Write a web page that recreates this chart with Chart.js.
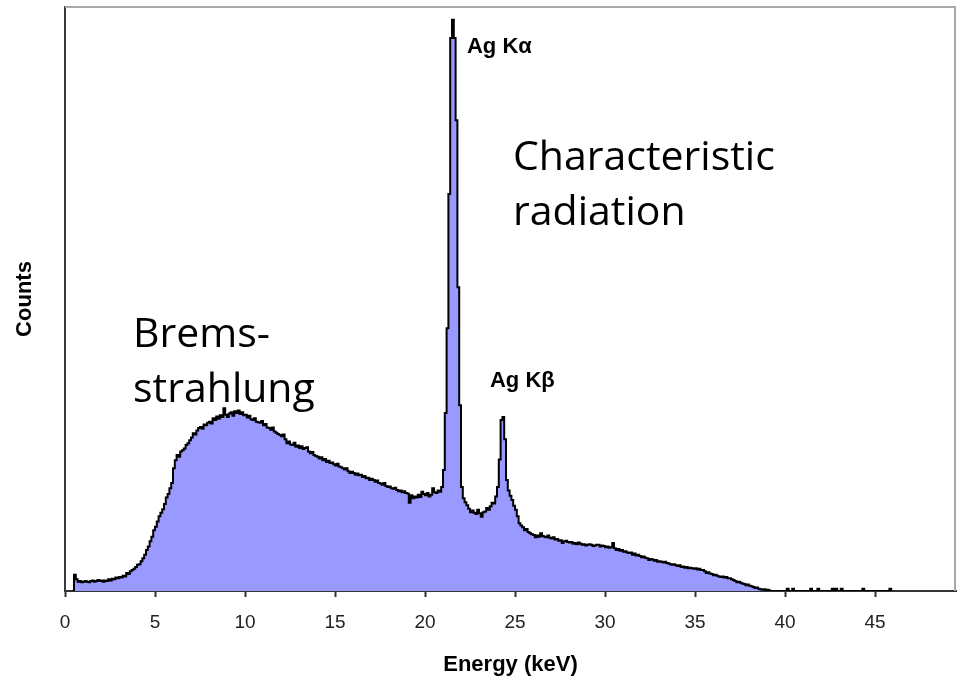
<!DOCTYPE html>
<html>
<head>
<meta charset="utf-8">
<script src="https://cdn.jsdelivr.net/npm/chart.js@4/dist/chart.umd.min.js"></script>
<style>
  html, body { margin: 0; padding: 0; background: #ffffff; }
  canvas { display: block; }
</style>
</head>
<body>
<canvas id="spectrum" width="957" height="680"></canvas>
<script>
// Energy calibration of the analyser: channel i sits at FIRST_CHANNEL_KEV + i * CHANNEL_WIDTH_KEV
const FIRST_CHANNEL_KEV = 0.4;
const CHANNEL_WIDTH_KEV = 0.1;

// Counts per channel (relative units, full scale 100), one row per keV
const counts = [
  /* 0.4 */ 0, 2.8, 2.0, 1.6, 1.7, 1.5,
  /*  1 */ 1.6, 1.7, 1.6, 1.5, 1.7, 1.8, 1.6, 1.7, 1.9, 1.7,
  /*  2 */ 1.8, 1.6, 1.8, 1.7, 2.0, 1.8, 2.1, 2.0, 2.3, 2.2,
  /*  3 */ 2.4, 2.3, 2.6, 2.5, 3.1, 2.9, 3.4, 3.6, 3.8, 4.1,
  /*  4 */ 4.5, 4.6, 5.1, 5.6, 6.2, 7.0, 7.6, 8.5, 9.3, 10.4,
  /*  5 */ 11.0, 11.9, 12.8, 13.4, 14.0, 14.9, 16.0, 16.6, 17.6, 18.5,
  /*  6 */ 21.0, 22.4, 23.3, 23.0, 23.9, 24.1, 24.4, 25.0, 25.3, 25.8,
  /*  7 */ 26.3, 27.0, 26.8, 27.5, 27.9, 28.1, 27.8, 28.5, 28.4, 28.8,
  /*  8 */ 29.0, 28.7, 29.6, 29.3, 29.9, 29.5, 30.1, 29.8, 31.3, 30.2,
  /*  9 */ 29.8, 30.4, 30.6, 30.0, 30.8, 30.5, 30.9, 30.3, 30.6, 30.1,
  /* 10 */ 30.2, 29.7, 30.0, 29.4, 29.3, 29.6, 29.0, 28.9, 28.8, 29.1,
  /* 11 */ 28.4, 28.6, 28.0, 27.9, 27.6, 28.0, 27.3, 27.1, 26.9, 26.7,
  /* 12 */ 26.5, 26.8, 26.0, 25.3, 25.6, 25.1, 25.0, 25.4, 24.7, 24.9,
  /* 13 */ 24.5, 24.8, 24.3, 24.5, 24.6, 23.9, 23.6, 23.8, 23.3, 23.1,
  /* 14 */ 23.0, 22.7, 22.9, 22.4, 22.6, 22.1, 22.3, 21.9, 22.0, 21.7,
  /* 15 */ 21.5, 21.8, 21.3, 21.2, 21.0, 20.8, 21.0, 20.5, 20.2, 20.4,
  /* 16 */ 20.2, 19.9, 20.1, 19.8, 19.9, 19.5, 19.7, 19.3, 19.4, 19.0,
  /* 17 */ 19.2, 19.0, 18.7, 18.9, 18.5, 18.4, 18.2, 18.5, 18.0, 17.8,
  /* 18 */ 17.9, 17.6, 17.5, 17.7, 17.3, 17.1, 17.2, 16.9, 17.1, 16.8,
  /* 19 */ 16.7, 15.1, 16.4, 15.9, 16.2, 16.0, 16.5, 16.1, 17.0, 16.6,
  /* 20 */ 16.4, 16.8, 16.2, 16.5, 17.6, 16.9, 16.8, 17.2, 17.0, 17.8,
  /* 21 */ 20.7, 30.5, 45.0, 68.0, 94.7, 97.8, 94.7, 80.6, 52.0, 31.8,
  /* 22 */ 17.8, 15.9, 15.2, 14.7, 14.1, 13.5, 13.8, 13.4, 13.2, 13.9,
  /* 23 */ 13.3, 12.7, 13.5, 13.6, 14.2, 13.9, 14.5, 15.1, 15.0, 16.2,
  /* 24 */ 17.8, 22.5, 29.3, 29.8, 26.0, 19.0, 17.2, 16.3, 15.6, 14.6,
  /* 25 */ 13.9, 12.8, 11.6, 11.2, 10.9, 10.4, 10.6, 10.1, 9.9, 9.7,
  /* 26 */ 9.6, 9.2, 9.5, 9.3, 9.9, 9.4, 9.3, 9.2, 9.5, 9.1,
  /* 27 */ 9.0, 9.2, 8.8, 8.9, 8.6, 8.7, 8.2, 8.5, 8.6, 8.4,
  /* 28 */ 8.3, 8.4, 8.1, 8.2, 8.0, 8.3, 8.1, 7.9, 8.0, 7.8,
  /* 29 */ 7.9, 8.0, 7.9, 7.7, 7.8, 7.9, 7.9, 7.6, 7.8, 7.7,
  /* 30 */ 7.5, 7.6, 7.4, 7.5, 8.2, 7.3, 7.0, 7.2, 6.9, 7.0,
  /* 31 */ 6.7, 6.8, 6.6, 6.5, 6.6, 6.2, 6.4, 6.1, 6.2, 6.0,
  /* 32 */ 5.8, 5.9, 5.7, 5.6, 5.3, 5.5, 5.4, 5.2, 5.3, 5.0,
  /* 33 */ 5.1, 5.0, 4.9, 5.0, 4.8, 4.7, 4.6, 4.5, 4.6, 4.4,
  /* 34 */ 4.3, 4.4, 4.1, 4.2, 4.0, 4.1, 3.9, 4.0, 3.9, 3.8,
  /* 35 */ 3.9, 3.7, 3.8, 3.6, 3.6, 3.4, 3.1, 3.2, 3.0, 2.9,
  /* 36 */ 2.7, 2.8, 2.6, 2.5, 2.4, 2.5, 2.3, 2.4, 2.2, 2.2,
  /* 37 */ 2.0, 1.9, 1.7, 1.5, 1.6, 1.4, 1.3, 1.2, 1.0, 1.1,
  /* 38 */ 0.9, 0.8, 0.7, 0.5, 0.6, 0.4, 0.3, 0.2, 0.3, 0.1,
  /* 39 */ 0.2, 0.1, 0, 0, 0, 0, 0, 0, 0, 0,
  /* 40 */ 0, 0.4, 0, 0, 0.4, 0, 0, 0, 0, 0,
  /* 41 */ 0, 0, 0, 0, 0.4, 0, 0, 0, 0.4, 0,
  /* 42 */ 0, 0, 0, 0, 0, 0, 0.4, 0, 0.4, 0,
  /* 43 */ 0, 0.4, 0, 0, 0, 0, 0, 0, 0, 0,
  /* 44 */ 0, 0, 0, 0.4, 0, 0, 0, 0, 0, 0,
  /* 45 */ 0, 0, 0, 0, 0, 0, 0, 0, 0.4, 0
];

// Energy axis tick values (keV)
const energyTicks = [0, 5, 10, 15, 20, 25, 30, 35, 40, 45];

// Line labels: [text, energy of left edge (keV), counts at text baseline]
const lineLabels = [
  ['Ag K\u03B1', 22.33, 92.1],
  ['Ag K\u03B2', 23.61, 34.9]
];

// Region captions: [text, energy of left edge (keV), counts at text baseline]
const regionCaptions = [
  ['Characteristic', 24.89, 72.1],
  ['radiation',      24.89, 62.7],
  ['Brems-',          3.78, 41.8],
  ['strahlung',       3.78, 32.4]
];

const spectrumPoints = counts.map((c, i) => ({
  x: +(FIRST_CHANNEL_KEV + i * CHANNEL_WIDTH_KEV).toFixed(2),
  y: c
}));

Chart.defaults.font.family = "'Liberation Sans', Arial, sans-serif";
Chart.defaults.color = '#222222';

const captionsPlugin = {
  id: 'spectrumCaptions',
  afterDraw(chart) {
    const { ctx, chartArea: a, scales: { x, y } } = chart;
    ctx.save();

    // light frame along the top and right of the plot area
    ctx.strokeStyle = '#a8a8a8';
    ctx.lineWidth = 2;
    ctx.beginPath();
    ctx.moveTo(a.left, a.top);
    ctx.lineTo(a.right - 1, a.top);
    ctx.lineTo(a.right - 1, a.bottom);
    ctx.stroke();

    ctx.textBaseline = 'alphabetic';
    ctx.textAlign = 'left';
    ctx.fillStyle = '#000000';

    ctx.font = "bold 22px 'Liberation Sans', Arial, sans-serif";
    lineLabels.forEach(([t, e, c]) => {
      ctx.fillText(t, x.getPixelForValue(e), y.getPixelForValue(c));
    });

    ctx.font = "41px 'Open Sans', 'Noto Sans', sans-serif";
    regionCaptions.forEach(([t, e, c]) => {
      ctx.fillText(t, x.getPixelForValue(e), y.getPixelForValue(c));
    });

    ctx.restore();
  }
};

new Chart(document.getElementById('spectrum'), {
  type: 'line',
  data: {
    datasets: [{
      label: 'Counts',
      data: spectrumPoints,
      stepped: true,
      fill: 'origin',
      backgroundColor: '#9999ff',
      borderColor: '#000000',
      borderWidth: 2,
      pointRadius: 0,
      pointHoverRadius: 0,
      tension: 0
    }]
  },
  options: {
    responsive: false,
    animation: false,
    devicePixelRatio: 1,
    layout: { padding: { top: 7, right: 1, left: 0, bottom: 0 } },
    plugins: {
      legend: { display: false },
      tooltip: { enabled: false }
    },
    scales: {
      x: {
        type: 'linear',
        min: 0,
        max: 49.5,
        afterBuildTicks: (scale) => {
          scale.ticks = energyTicks.map(v => ({ value: v }));
        },
        afterFit: (scale) => { scale.height = 89; },
        ticks: {
          autoSkip: false,
          maxRotation: 0,
          padding: 14,
          color: '#222222',
          font: { size: 19 }
        },
        grid: {
          drawOnChartArea: false,
          drawTicks: true,
          tickLength: 6,
          tickColor: '#333333',
          tickWidth: 2
        },
        border: { display: true, color: '#333333', width: 2 },
        title: {
          display: true,
          text: 'Energy (keV)',
          color: '#000000',
          font: { size: 22, weight: 'bold' },
          padding: { top: 0, bottom: 2 }
        }
      },
      y: {
        type: 'linear',
        min: 0,
        max: 100,
        afterFit: (scale) => { scale.width = 65; },
        ticks: { display: false },
        grid: { drawOnChartArea: false, drawTicks: false },
        border: { display: true, color: '#3a3a3a', width: 2 },
        title: {
          display: true,
          text: 'Counts',
          color: '#000000',
          font: { size: 22, weight: 'bold' },
          padding: { top: 12, bottom: 0 }
        }
      }
    }
  },
  plugins: [captionsPlugin]
});
</script>
</body>
</html>
